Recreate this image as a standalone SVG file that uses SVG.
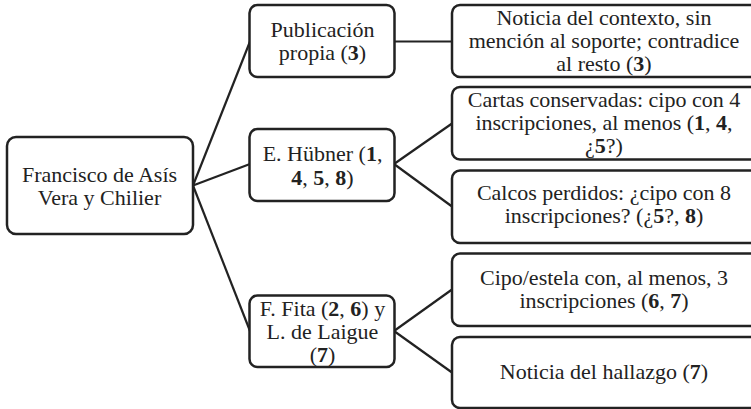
<svg xmlns="http://www.w3.org/2000/svg" width="751" height="409" viewBox="0 0 751 409" font-family="'Liberation Serif', 'Times New Roman', serif">
<style>
rect.box{fill:#fff;stroke:#222;stroke-width:2.5}
.cn line{stroke:#222;stroke-width:2.2;fill:none}
text{font-family:'Liberation Serif','Times New Roman',serif;font-size:22px;fill:#222;text-anchor:middle}
.b{font-weight:bold}
</style>
<rect width="751" height="409" fill="#fff"/>
<g class="cn" id="connectors">
<line x1="193" y1="185.5" x2="250" y2="41.5"/>
<line x1="193" y1="185.5" x2="250" y2="164"/>
<line x1="193" y1="185.5" x2="250" y2="331"/>
<line x1="394" y1="41.5" x2="452" y2="41.5"/>
<line x1="394" y1="164" x2="452" y2="123.5"/>
<line x1="394" y1="164" x2="452" y2="206.5"/>
<line x1="394" y1="331" x2="452" y2="289.5"/>
<line x1="394" y1="331" x2="452" y2="372.5"/>
</g>
<g id="root">
<rect class="box" x="7" y="137" width="186" height="97" rx="9"/>
<text x="99.5" y="181.5">Francisco de Asís</text>
<text x="99.5" y="204.5">Vera y Chilier</text>
</g>
<g id="publicacion">
<rect class="box" x="249.5" y="5" width="145" height="72" rx="8"/>
<text x="322.5" y="36.5">Publicación</text>
<text x="322.5" y="59.5">propia (<tspan class="b">3</tspan>)</text>
</g>
<g id="hubner">
<rect class="box" x="249.5" y="129" width="145" height="72" rx="8"/>
<text x="322.5" y="161">E. Hübner (<tspan class="b">1</tspan>,</text>
<text x="322.5" y="184.5"><tspan class="b">4</tspan>, <tspan class="b">5</tspan>, <tspan class="b">8</tspan>)</text>
</g>
<g id="fita">
<rect class="box" x="249.5" y="295.5" width="145" height="71.5" rx="8"/>
<text x="322.5" y="315.5">F. Fita (<tspan class="b">2</tspan>, <tspan class="b">6</tspan>) y</text>
<text x="322.5" y="338.5">L. de Laigue</text>
<text x="322.5" y="361.5">(<tspan class="b">7</tspan>)</text>
</g>
<g id="noticia-contexto">
<rect class="box" x="452" y="5" width="306" height="72" rx="8"/>
<text x="604" y="24.5">Noticia del contexto, sin</text>
<text x="604" y="47.5">mención al soporte; contradice</text>
<text x="604" y="70.5">al resto (<tspan class="b">3</tspan>)</text>
</g>
<g id="cartas">
<rect class="box" x="452" y="87" width="306" height="72.5" rx="8"/>
<text x="604" y="106.5">Cartas conservadas: cipo con 4</text>
<text x="604" y="129.5">inscripciones, al menos (<tspan class="b">1</tspan>, <tspan class="b">4</tspan>,</text>
<text x="604" y="152.5">¿<tspan class="b">5</tspan>?)</text>
</g>
<g id="calcos">
<rect class="box" x="452" y="170.5" width="306" height="72.5" rx="8"/>
<text x="604" y="199.5">Calcos perdidos: ¿cipo con 8</text>
<text x="604" y="222.5">inscripciones? (¿<tspan class="b">5</tspan>?, <tspan class="b">8</tspan>)</text>
</g>
<g id="cipo">
<rect class="box" x="452" y="253.5" width="306" height="72.5" rx="8"/>
<text x="604" y="284.5">Cipo/estela con, al menos, 3</text>
<text x="604" y="307.5">inscripciones (<tspan class="b">6</tspan>, <tspan class="b">7</tspan>)</text>
</g>
<g id="hallazgo">
<rect class="box" x="452" y="337" width="306" height="71" rx="8"/>
<text x="604" y="378.5">Noticia del hallazgo (<tspan class="b">7</tspan>)</text>
</g>
</svg>
